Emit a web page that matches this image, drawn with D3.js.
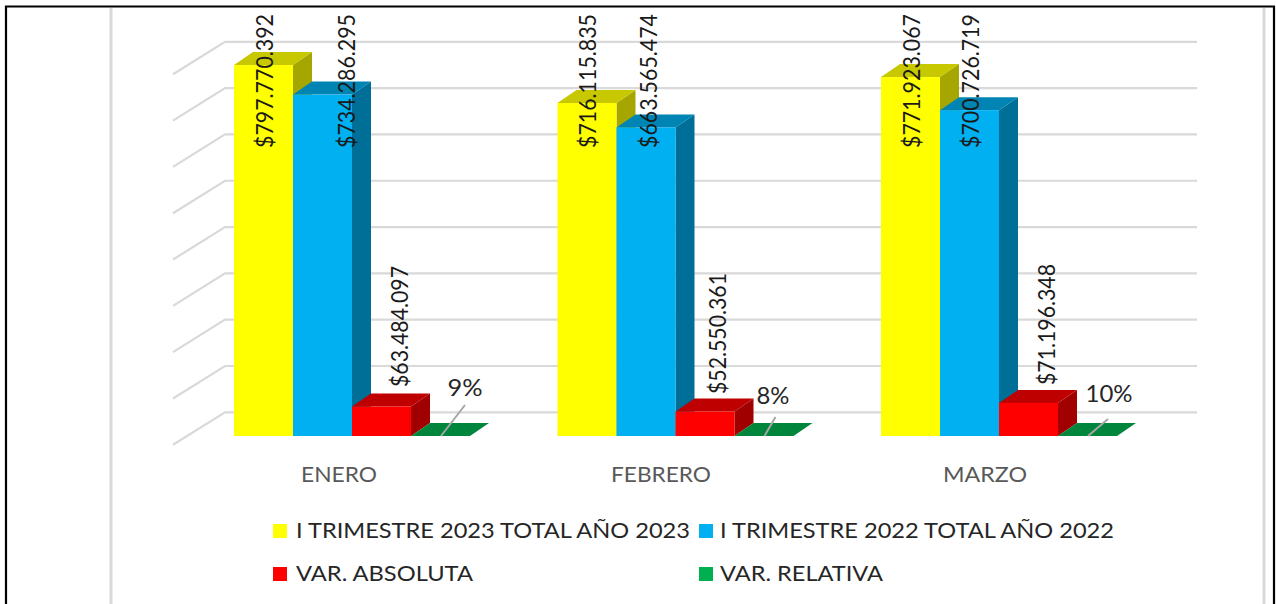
<!DOCTYPE html>
<html><head><meta charset="utf-8">
<script src="https://cdn.jsdelivr.net/npm/d3@7/dist/d3.min.js"></script>
<style>html,body{margin:0;padding:0;background:#fff;overflow:hidden}svg{display:block}text{font-family:Lato,"Open Sans",sans-serif}</style>
</head><body><svg id="c" width="1276" height="604"></svg>
<script>
const categories = ["ENERO","FEBRERO","MARZO"];
const seriesNames = ["I TRIMESTRE 2023 TOTAL AÑO 2023","I TRIMESTRE 2022 TOTAL AÑO 2022","VAR. ABSOLUTA","VAR. RELATIVA"];
const values2023 = [797770392,716115835,771923067];
const values2022 = [734286295,663565474,700726719];
const varAbsoluta = [63484097,52550361,71196348];
const varRelativa = [0.09,0.08,0.10];
const labelsRelativa = ["9%","8%","10%"];
const gridTicks = [0,100e6,200e6,300e6,400e6,500e6,600e6,700e6,800e6];
const frontColors = ["#ffff00","#00b0f0","#ff0000","#00a047"];
const topColors = ["#c8c800","#0084b4","#bf0000","#00863c"];
const sideColors = ["#a6a600","#006f98","#a00000","#006d30"];
const legendColors = ["#ffff00","#00b0f0","#ff0000","#00b050"];

const svg = d3.select("#c");
const base = 436, dx = 19, dy = 13;
const y = d3.scaleLinear().domain([0,800e6]).range([base, base-372]);
const gridY = d3.scaleLinear().domain([0,800e6]).range([412.3, 41.8]);
const barW = 59;
const x = d3.scalePoint().domain(categories).range([234,881]);
const s = d3.scaleBand().domain(d3.range(4)).range([0,barW*4]);
const fmt = v => "$"+d3.format(",")(v).replace(/,/g,".");

// frame
const frame = svg.append("g").attr("fill","none");
frame.append("line").attr("x1",111).attr("x2",111).attr("y1",8).attr("y2",604).attr("stroke","#d9d9d9").attr("stroke-width",3);
frame.append("line").attr("x1",1264).attr("x2",1264).attr("y1",8).attr("y2",604).attr("stroke","#d9d9d9").attr("stroke-width",3);
frame.append("path").attr("d","M6,604V6.5H1274V604").attr("stroke","#000").attr("stroke-width",2.2);

// gridlines on wall and floor
svg.append("g").selectAll("path").data(gridTicks).join("path")
  .attr("d",v=>`M173,${gridY(v)+32.5}L225,${gridY(v)}H1197`)
  .attr("fill","none").attr("stroke","#d9d9d9").attr("stroke-width",2.2);

// bars
const rows = categories.map((c,i)=>[values2023[i],values2022[i],varAbsoluta[i],0]);
categories.forEach((c,i)=>{
  const g = svg.append("g");
  rows[i].forEach((v,k)=>{
    const l = x(c)+s(k), r = l+barW, t = y(v);
    g.append("path").attr("d",`M${r},${base}L${r+dx},${base-dy}V${t-dy}L${r},${t}Z`).attr("fill",sideColors[k]);
    g.append("path").attr("d",`M${l},${t}L${l+dx},${t-dy}H${r+dx}L${r},${t}Z`).attr("fill",topColors[k]);
    if(v>0) g.append("rect").attr("x",l).attr("y",t).attr("width",barW).attr("height",base-t).attr("fill",frontColors[k]);
  });
});

// leader lines + percent labels
const leaderEnd = [[24,-31],[11,-19],[20,-17]];
const pctPos = [[465,396],[773,404],[1109,402]];
const pctW = [35,33,47];
categories.forEach((c,i)=>{
  const x0 = x(c)+s(3)+30;
  svg.append("line").attr("x1",x0).attr("y1",base).attr("x2",x0+leaderEnd[i][0]).attr("y2",base+leaderEnd[i][1])
    .attr("stroke","#a6a6a6").attr("stroke-width",2);
  svg.append("text").attr("x",pctPos[i][0]).attr("y",pctPos[i][1]).attr("text-anchor","middle")
    .attr("font-size",23).attr("fill","#262626").attr("textLength",pctW[i]).attr("lengthAdjust","spacingAndGlyphs").text(labelsRelativa[i]);
});

// rotated value labels
const rot = (cx,bottom,txt)=>svg.append("text")
  .attr("transform",`translate(${cx},${bottom}) rotate(-90)`)
  .attr("font-size",23).attr("fill","#1a1a1a").attr("textLength",txt.length===12?134:121)
  .attr("lengthAdjust","spacingAndGlyphs").text(txt);
const labelX = [[273,355,408],[596,657,726],[920,979,1055]];
const labelBottom = [[148,148,387],[148,148,394],[148,148,385]];
categories.forEach((c,i)=>{
  [values2023[i],values2022[i],varAbsoluta[i]].forEach((v,k)=>rot(labelX[i][k],labelBottom[i][k],fmt(v)));
});

// category labels
const catX = [339,661,985];
const catW = [76,100,84];
svg.append("g").selectAll("text").data(categories).join("text")
  .attr("x",(d,i)=>catX[i]).attr("y",482).attr("text-anchor","middle")
  .attr("font-size",21).attr("fill","#595959")
  .attr("textLength",(d,i)=>catW[i]).attr("lengthAdjust","spacingAndGlyphs").text(d=>d);

// legend
const legX = [273,699,273,699], legY = [524,524,567,567], legW=[394,394,177,163];
seriesNames.forEach((n,i)=>{
  svg.append("rect").attr("x",legX[i]).attr("y",legY[i]).attr("width",14).attr("height",14).attr("fill",legendColors[i]);
  svg.append("text").attr("x",legX[i]+(i%2?21:23)).attr("y",legY[i]+13.5).attr("font-size",21).attr("fill","#262626")
    .attr("textLength",legW[i]).attr("lengthAdjust","spacingAndGlyphs").text(n);
});
</script></body></html>
